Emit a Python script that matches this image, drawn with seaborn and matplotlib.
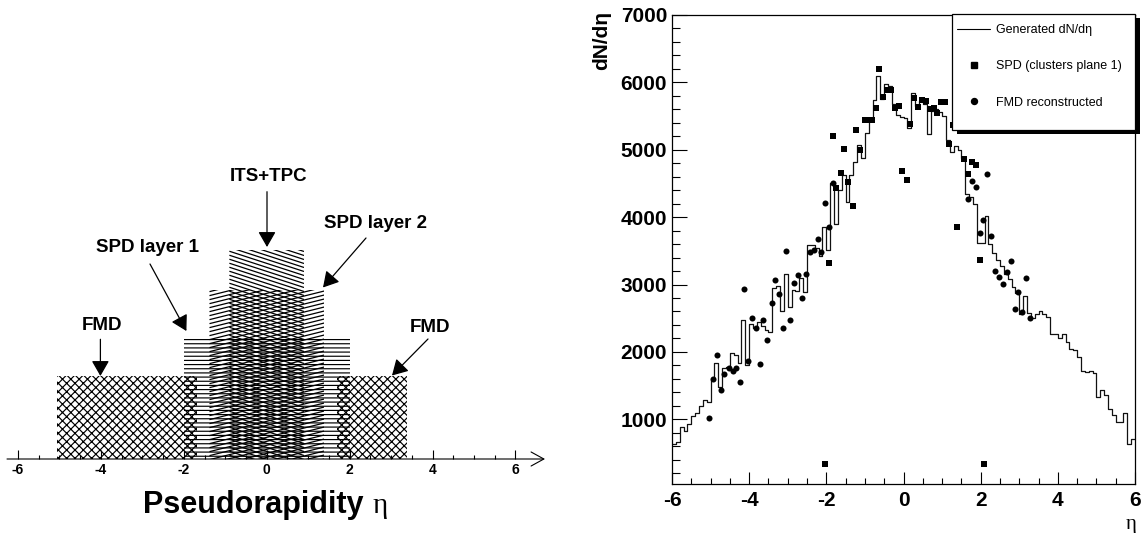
import numpy as np
import pandas as pd
import matplotlib
matplotlib.use("Agg")
import matplotlib.pyplot as plt
import seaborn as sns
from matplotlib.lines import Line2D
from matplotlib.patches import Rectangle
from matplotlib.collections import LineCollection
from matplotlib.ticker import MultipleLocator

# ---------------- data: right panel ----------------
eta_min, eta_max = -6.0, 6.0
generated = [
    640, 660, 880, 820, 930, 1050, 1090, 1200, 1290, 1260,
    1590, 1840, 1480, 1760, 1780, 1980, 1950, 1840, 2480, 1800,
    2420, 2360, 2440, 2380, 2330, 2290, 2950, 2980, 2610, 3160,
    2660, 2920, 2900, 3090, 2890, 3580, 3590, 3540, 3420, 3860,
    3520, 4500, 3900, 4400, 4620, 4230, 4620, 4820, 5070, 4880,
    5250, 5420, 5740, 6100, 5750, 5970, 5950, 5680, 5520, 5490,
    5470, 5320, 5840, 5650, 5720, 5680, 5240, 5580, 5600, 5560,
    5500, 5150, 4960, 5050, 5000, 4880, 4350, 4300, 4200, 3620,
    3620, 4010, 3600, 3470, 3370, 3270, 3150, 3080, 2960, 2880,
    2560, 2830, 2580, 2500, 2560, 2600, 2570, 2520, 2270, 2270,
    2210, 2270, 2150, 2050, 2030, 1930, 1720, 1700, 1710, 1680,
    1330, 1430, 1360, 1160, 1060, 960, 960, 1095, 630, 710,
]
spd_eta = [-2.03, -1.93, -1.84, -1.74, -1.62, -1.53, -1.43, -1.32, -1.23, -1.12,
           -1.01, -0.92, -0.82, -0.72, -0.63, -0.52, -0.42, -0.33, -0.22, -0.12,
           -0.03, 0.08, 0.18, 0.27, 0.37, 0.48, 0.58, 0.68, 0.78, 0.87,
           0.98, 1.08, 1.17, 1.27, 1.38, 1.57, 1.67, 1.77, 1.87, 1.98, 2.08]
spd_dndeta = [330, 3320, 5210, 4430, 4655, 5008, 4519, 4166, 5296, 5003,
              5447, 5437, 5437, 5623, 6193, 5790, 5891, 5880, 5623, 5654,
              4680, 4554, 5386, 5764, 5638, 5734, 5724, 5598, 5613, 5548,
              5704, 5704, 5090, 5370, 3850, 4865, 4640, 4825, 4775, 3360, 330]
fmd_eta = [-5.03, -4.94, -4.84, -4.74, -4.64, -4.53, -4.43, -4.33, -4.24, -4.14,
           -4.03, -3.93, -3.83, -3.73, -3.63, -3.53, -3.42, -3.33, -3.23, -3.13,
           -3.04, -2.93, -2.83, -2.73, -2.63, -2.53, -2.43, -2.33, -2.22, -2.13,
           -2.03, -1.93, -1.84,
           1.67, 1.77, 1.87, 1.98, 2.07, 2.17, 2.28, 2.37, 2.48, 2.58,
           2.67, 2.78, 2.88, 2.98, 3.08, 3.18, 3.28]
fmd_dndeta = [1014, 1594, 1957, 1428, 1670, 1756, 1720, 1765, 1554, 2930,
              1866, 2502, 2350, 1821, 2477, 2184, 2724, 3067, 2860, 2360,
              3505, 2472, 3016, 3142, 2800, 3157, 3480, 3520, 3672, 3480,
              4216, 3848, 4503,
              4265, 4533, 4450, 3768, 3955, 4635, 3723, 3200, 3110, 3008,
              3190, 3354, 2630, 2890, 2597, 3104, 2497]
legend_labels = ["Generated dN/dη", "SPD (clusters plane 1)", "FMD reconstructed"]
right_xticks = [-6, -4, -2, 0, 2, 4, 6]
right_yticks = [1000, 2000, 3000, 4000, 5000, 6000, 7000]

# ---------------- data: left panel (schematic acceptance) ----------------
det_names = ["FMD", "FMD", "SPD layer 1", "SPD layer 2", "ITS+TPC"]
det_eta_min = [-5.07, 1.69, -2.0, -1.38, -0.9]
det_eta_max = [-1.69, 3.38, 2.0, 1.39, 0.9]
det_height = [83, 83, 123, 169, 209]
left_ticks = [-6, -4, -2, 0, 2, 4, 6]

# ---------------- style ----------------
sns.set_theme(style="white")
plt.rcParams["font.family"] = ["Liberation Sans", "DejaVu Sans"]
plt.rcParams["axes.unicode_minus"] = False
plt.rcParams["hatch.linewidth"] = 0.85
plt.rcParams["text.color"] = "black"
plt.rcParams["axes.labelcolor"] = "black"
plt.rcParams["xtick.color"] = "black"
plt.rcParams["ytick.color"] = "black"
plt.rcParams["xtick.labelcolor"] = "black"
plt.rcParams["ytick.labelcolor"] = "black"

W, H = 1145, 533
fig = plt.figure(figsize=(W / 100, H / 100), dpi=100)
fig.patch.set_facecolor("white")

# ================= left panel =================
PXU = 41.45      # pixels per unit of eta
ETA0 = 266.7     # pixel x of eta = 0
AXY = 459        # pixel y of the eta axis
ax1 = fig.add_axes([0, 0, 560 / W, 1])
ax1.set_xlim(-ETA0 / PXU, (560 - ETA0) / PXU)
ax1.set_ylim(AXY - H, AXY)
ax1.axis("off")


def P(xp, yp):
    return ((xp - ETA0) / PXU, AXY - yp)


def slanted(ax, patch, x0, x1, h, ang, sp):
    m = np.tan(np.radians(ang)) * PXU
    span = abs(m) * (x1 - x0)
    cs = np.arange(-span - sp, h + span + sp, sp)
    segs = [[(x0, c), (x1, c + m * (x1 - x0))] for c in cs]
    lc = LineCollection(segs, colors="black", linewidths=0.9)
    ax.add_collection(lc)
    lc.set_clip_path(patch)


hatches = ["xxxx", "xxxx", "----", None, None]
angles = [None, None, None, 14, -18]
for lo, hi, h, hat, ang in zip(det_eta_min, det_eta_max, det_height, hatches, angles):
    bars = ax1.bar((lo + hi) / 2, h, width=hi - lo, bottom=0,
                   facecolor="none", edgecolor="black", linewidth=0, hatch=hat)
    if ang is not None:
        slanted(ax1, bars.patches[0], lo, hi, h, ang, 4.0)

# eta axis with open arrow
ax1.annotate("", xy=P(545, AXY), xytext=P(7, AXY),
             arrowprops=dict(arrowstyle="->,head_length=0.4,head_width=0.22",
                             lw=0.8, color="black", mutation_scale=23,
                             shrinkA=0, shrinkB=0))
minor = np.arange(-6, 6.01, 0.5)
ax1.vlines([m for m in minor if m not in left_ticks], 0, 4, color="black", lw=0.8)
ax1.vlines(left_ticks, 0, 9, color="black", lw=0.8)
for t in left_ticks:
    ax1.text(t, -11.5, str(t), ha="center", va="center", fontsize=10,
             fontweight="bold", color="black")

x, y = P(143, 513)
ax1.text(x, y, "Pseudorapidity", fontsize=22, fontweight="bold", ha="left",
         va="baseline", color="black")
x, y = P(373, 513)
ax1.text(x, y, "η", fontsize=21, ha="left", va="baseline", color="black",
         family=["Liberation Serif", "DejaVu Serif"])

labels = [("ITS+TPC", (268.8, 176.7), (267, 191.7), (267, 247)),
          ("SPD layer 2", (376, 223.3), (366, 238), (323, 287.5)),
          ("SPD layer 1", (147, 247.3), (150, 264), (186.4, 331)),
          ("FMD", (102, 325.7), (100.4, 339.3), (100.4, 376)),
          ("FMD", (430, 327.3), (428, 339), (392, 375.5))]
for txt, tp, a0, a1 in labels:
    ax1.text(*P(*tp), txt, ha="center", va="center", fontsize=13.5,
             fontweight="bold", color="black")
    ax1.annotate("", xy=P(*a1), xytext=P(*a0),
                 arrowprops=dict(arrowstyle="-|>,head_length=0.47,head_width=0.27",
                                 lw=0.9, color="black", mutation_scale=20,
                                 shrinkA=0, shrinkB=0))

# ================= right panel =================
L, R, T, B = 672, 1135, 15, 484
ax2 = fig.add_axes([L / W, (H - B) / H, (R - L) / W, (B - T) / H])
nb = len(generated)
bw = (eta_max - eta_min) / nb
centers = eta_min + bw * (np.arange(nb) + 0.5)
hist_df = pd.DataFrame({"eta": centers, "dndeta": generated})
sns.histplot(data=hist_df, x="eta", weights="dndeta", bins=nb,
             binrange=(eta_min, eta_max),
             element="step", fill=False, color="#111111", linewidth=0.9, ax=ax2)
sns.scatterplot(x=spd_eta, y=spd_dndeta, marker="s", s=20, color="black",
                linewidth=0, ax=ax2, zorder=3)
sns.scatterplot(x=fmd_eta, y=fmd_dndeta, marker="o", s=19, color="black",
                linewidth=0, ax=ax2, zorder=3)
ax2.set_xlim(eta_min, eta_max)
ax2.set_ylim(40, 7000)
ax2.set_xlabel("")
ax2.set_ylabel("")
ax2.set_xticks(right_xticks)
ax2.set_yticks(right_yticks)
ax2.xaxis.set_minor_locator(MultipleLocator(0.5))
ax2.yaxis.set_minor_locator(MultipleLocator(200))
ax2.tick_params(axis="x", which="major", direction="in", length=8.6, width=0.8,
                bottom=True, top=False, pad=5, labelsize=15, color="black",
                labelcolor="black")
ax2.tick_params(axis="x", which="minor", direction="in", length=4.3, width=0.8,
                bottom=True, top=False, color="black")
ax2.tick_params(axis="y", which="major", direction="in", length=10.8, width=0.8,
                left=True, right=False, pad=3.5, labelsize=15, color="black",
                labelcolor="black")
ax2.tick_params(axis="y", which="minor", direction="in", length=5.5, width=0.8,
                left=True, right=False, color="black")
for lab in ax2.get_xticklabels() + ax2.get_yticklabels():
    lab.set_fontweight("bold")
for sp in ax2.spines.values():
    sp.set_color("black")
    sp.set_linewidth(0.9)

fig.text(602 / W, 1 - 40 / H, "dN/dη", rotation=90, ha="center", va="center",
         fontsize=15, fontweight="bold", color="black")
fig.text(1131 / W, 1 - 524 / H, "η", ha="center", va="center", fontsize=15,
         color="black", family=["Liberation Serif", "DejaVu Serif"])

# legend with black drop shadow
fx0 = (952 - L) / (R - L)
fy0 = (B - 130) / (B - T)
fy1 = (B - 14) / (B - T)
dx, dy = 5 / (R - L), 4 / (B - T)
ax2.add_patch(Rectangle((fx0 + dx, fy0 - dy), 1 - fx0, fy1 - fy0, transform=ax2.transAxes,
                        facecolor="black", edgecolor="none", zorder=10, clip_on=False))
ax2.add_patch(Rectangle((fx0, fy0), 1 - fx0, fy1 - fy0, transform=ax2.transAxes,
                        facecolor="white", edgecolor="black", lw=0.9, zorder=11, clip_on=False))
handles = [Line2D([], [], color="black", lw=0.8),
           Line2D([], [], color="black", marker="s", ls="none", markersize=4.3),
           Line2D([], [], color="black", marker="o", ls="none", markersize=4.3)]
leg = ax2.legend(handles, legend_labels, loc="upper left",
                 bbox_to_anchor=((957 - L) / (R - L), (B - 24) / (B - T)),
                 frameon=False, fontsize=9, handlelength=2.64, handletextpad=0.5,
                 labelspacing=1.95, borderpad=0, borderaxespad=0)
leg.set_zorder(12)
for t in leg.get_texts():
    t.set_color("black")

fig.savefig("out.png", dpi=100, facecolor="white")
